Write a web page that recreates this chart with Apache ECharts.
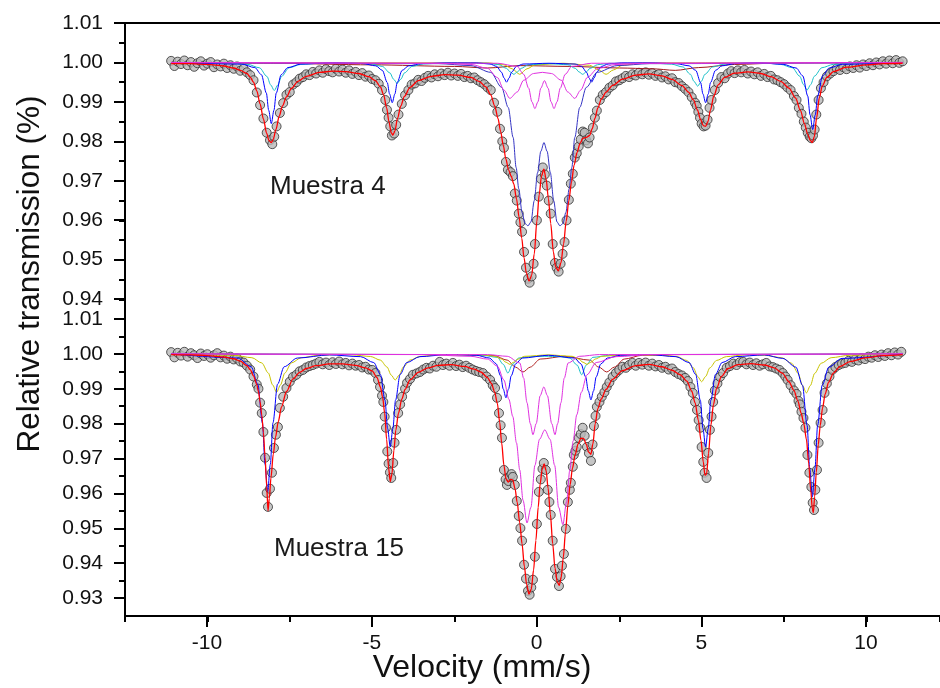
<!DOCTYPE html>
<html>
<head>
<meta charset="utf-8">
<script src="https://cdn.jsdelivr.net/npm/echarts@6/dist/echarts.min.js"></script>
<style>
html,body{margin:0;padding:0;background:#fff}
#chart{width:940px;height:688px}
</style>
</head>
<body>
<div id="chart"></div>
<script>
// Mössbauer spectra, velocity (mm/s) vs relative transmission

// ---------- Muestra 4 ----------
const m4Data = [[-11.1,1.0004],[-11.0,0.9991],[-10.9,1.0002],[-10.8,0.9996],[-10.7,1.0005],[-10.6,0.9993],[-10.5,1.0001],[-10.4,0.9989],[-10.3,0.9998],[-10.2,1.0003],[-10.1,0.9992],[-10.0,0.9997],[-9.9,1.0001],[-9.8,0.9988],[-9.7,0.9995],[-9.6,0.9990],[-9.5,0.9997],[-9.4,0.9986],[-9.3,0.9993],[-9.2,0.9984],[-9.1,0.9990],[-9.0,0.9979],[-8.9,0.9984],[-8.8,0.9975],[-8.7,0.9968],[-8.6,0.9955],[-8.5,0.9924],[-8.4,0.9892],[-8.3,0.9858],[-8.2,0.9822],[-8.1,0.9803],[-8.03,0.9793],[-7.97,0.9812],[-7.9,0.9838],[-7.8,0.9872],[-7.7,0.9897],[-7.6,0.9918],[-7.5,0.9925],[-7.4,0.9944],[-7.3,0.9950],[-7.2,0.9959],[-7.1,0.9963],[-7.0,0.9970],[-6.9,0.9968],[-6.8,0.9976],[-6.7,0.9972],[-6.6,0.9980],[-6.5,0.9974],[-6.4,0.9983],[-6.3,0.9978],[-6.2,0.9975],[-6.1,0.9984],[-6.0,0.9977],[-5.9,0.9982],[-5.8,0.9974],[-5.7,0.9980],[-5.6,0.9971],[-5.5,0.9976],[-5.4,0.9968],[-5.3,0.9973],[-5.2,0.9964],[-5.1,0.9967],[-5.0,0.9958],[-4.9,0.9955],[-4.8,0.9946],[-4.7,0.9930],[-4.6,0.9905],[-4.55,0.9880],[-4.5,0.9860],[-4.45,0.9838],[-4.4,0.9815],[-4.33,0.9820],[-4.27,0.9842],[-4.2,0.9868],[-4.1,0.9895],[-4.0,0.9917],[-3.9,0.9930],[-3.8,0.9944],[-3.7,0.9947],[-3.6,0.9956],[-3.5,0.9953],[-3.4,0.9961],[-3.3,0.9966],[-3.2,0.9962],[-3.1,0.9970],[-3.0,0.9965],[-2.9,0.9972],[-2.8,0.9968],[-2.7,0.9974],[-2.6,0.9967],[-2.5,0.9972],[-2.4,0.9966],[-2.3,0.9971],[-2.2,0.9963],[-2.1,0.9966],[-2.0,0.9960],[-1.9,0.9962],[-1.8,0.9955],[-1.7,0.9950],[-1.6,0.9945],[-1.5,0.9937],[-1.4,0.9930],[-1.3,0.9898],[-1.2,0.9875],[-1.12,0.9832],[-1.05,0.9800],[-1.0,0.9784],[-0.94,0.9748],[-0.88,0.9728],[-0.8,0.9722],[-0.73,0.9712],[-0.67,0.9668],[-0.61,0.9650],[-0.55,0.9617],[-0.5,0.9595],[-0.45,0.9571],[-0.39,0.9520],[-0.33,0.9480],[-0.27,0.9452],[-0.22,0.9442],[-0.16,0.9458],[-0.1,0.9490],[-0.06,0.9540],[0.0,0.9600],[0.06,0.9660],[0.12,0.9705],[0.18,0.9734],[0.24,0.9716],[0.3,0.9688],[0.36,0.9650],[0.42,0.9617],[0.48,0.9540],[0.55,0.9492],[0.6,0.9480],[0.66,0.9470],[0.72,0.9490],[0.78,0.9515],[0.84,0.9545],[0.9,0.9600],[0.97,0.9652],[1.03,0.9693],[1.09,0.9718],[1.15,0.9759],[1.21,0.9770],[1.27,0.9787],[1.33,0.9805],[1.39,0.9825],[1.45,0.9822],[1.5,0.9803],[1.55,0.9795],[1.6,0.9810],[1.7,0.9835],[1.76,0.9860],[1.82,0.9878],[1.91,0.9905],[2.0,0.9918],[2.1,0.9925],[2.2,0.9936],[2.3,0.9942],[2.4,0.9952],[2.5,0.9955],[2.6,0.9960],[2.7,0.9966],[2.8,0.9963],[2.9,0.9970],[3.0,0.9967],[3.1,0.9974],[3.2,0.9970],[3.3,0.9975],[3.4,0.9969],[3.5,0.9973],[3.6,0.9966],[3.7,0.9970],[3.8,0.9962],[3.9,0.9965],[4.0,0.9957],[4.1,0.9960],[4.2,0.9950],[4.3,0.9948],[4.4,0.9940],[4.5,0.9933],[4.6,0.9925],[4.7,0.9912],[4.8,0.9898],[4.85,0.9890],[4.9,0.9875],[4.95,0.9860],[5.0,0.9845],[5.06,0.9838],[5.12,0.9840],[5.18,0.9855],[5.24,0.9885],[5.3,0.9905],[5.4,0.9930],[5.5,0.9948],[5.6,0.9963],[5.7,0.9960],[5.8,0.9972],[5.9,0.9978],[6.0,0.9973],[6.1,0.9980],[6.2,0.9975],[6.3,0.9981],[6.4,0.9972],[6.5,0.9977],[6.6,0.9970],[6.7,0.9975],[6.8,0.9966],[6.9,0.9971],[7.0,0.9963],[7.1,0.9966],[7.2,0.9957],[7.3,0.9955],[7.4,0.9950],[7.5,0.9945],[7.6,0.9937],[7.7,0.9930],[7.8,0.9915],[7.88,0.9905],[7.95,0.9885],[8.03,0.9870],[8.1,0.9850],[8.16,0.9835],[8.22,0.9822],[8.28,0.9812],[8.33,0.9808],[8.38,0.9815],[8.43,0.9830],[8.48,0.9868],[8.55,0.9905],[8.62,0.9935],[8.7,0.9950],[8.8,0.9965],[8.9,0.9972],[9.0,0.9978],[9.1,0.9985],[9.2,0.9981],[9.3,0.9988],[9.4,0.9983],[9.5,0.9990],[9.6,0.9986],[9.7,0.9993],[9.8,0.9987],[9.9,0.9995],[10.0,0.9991],[10.1,0.9998],[10.2,0.9993],[10.3,1.0000],[10.4,0.9995],[10.5,1.0003],[10.6,0.9997],[10.7,1.0005],[10.8,0.9998],[10.9,1.0006],[11.0,0.9999],[11.1,1.0003]];

const m4Fit = [[-11.1,0.9997],[-10.5,0.9997],[-10,0.9995],[-9.5,0.9991],[-9.2,0.9986],[-9.0,0.9980],[-8.8,0.9972],[-8.7,0.9963],[-8.6,0.9950],[-8.5,0.9928],[-8.4,0.9895],[-8.3,0.9857],[-8.2,0.9820],[-8.13,0.9802],[-8.06,0.9797],[-8.0,0.9805],[-7.92,0.9830],[-7.82,0.9864],[-7.72,0.9890],[-7.6,0.9913],[-7.45,0.9934],[-7.25,0.9952],[-7.0,0.9965],[-6.6,0.9975],[-6.2,0.9978],[-5.8,0.9977],[-5.4,0.9972],[-5.1,0.9964],[-4.9,0.9954],[-4.75,0.9938],[-4.65,0.9918],[-4.56,0.9885],[-4.49,0.9850],[-4.42,0.9822],[-4.37,0.9816],[-4.31,0.9826],[-4.23,0.9858],[-4.13,0.9890],[-4.02,0.9914],[-3.85,0.9937],[-3.6,0.9954],[-3.2,0.9965],[-2.8,0.9969],[-2.4,0.9968],[-2.0,0.9962],[-1.75,0.9952],[-1.55,0.9938],[-1.4,0.9918],[-1.28,0.9890],[-1.18,0.9858],[-1.1,0.9825],[-1.02,0.9790],[-0.94,0.9755],[-0.86,0.9728],[-0.78,0.9712],[-0.7,0.9692],[-0.62,0.9655],[-0.54,0.9608],[-0.46,0.9555],[-0.39,0.9505],[-0.32,0.9467],[-0.24,0.9446],[-0.16,0.9460],[-0.08,0.9515],[0.0,0.9598],[0.07,0.9665],[0.14,0.9712],[0.21,0.9730],[0.28,0.9705],[0.35,0.9655],[0.42,0.9592],[0.5,0.9520],[0.57,0.9482],[0.65,0.9472],[0.73,0.9492],[0.81,0.9540],[0.89,0.9598],[0.97,0.9650],[1.05,0.9697],[1.13,0.9740],[1.22,0.9772],[1.31,0.9795],[1.4,0.9808],[1.5,0.9810],[1.6,0.9815],[1.68,0.9832],[1.76,0.9858],[1.85,0.9885],[1.96,0.9908],[2.1,0.9925],[2.3,0.9942],[2.6,0.9958],[3.0,0.9968],[3.4,0.9971],[3.8,0.9966],[4.1,0.9957],[4.4,0.9942],[4.6,0.9925],[4.75,0.9905],[4.87,0.9880],[4.97,0.9855],[5.05,0.9840],[5.12,0.9838],[5.19,0.9850],[5.27,0.9880],[5.37,0.9915],[5.5,0.9943],[5.7,0.9962],[6.0,0.9973],[6.4,0.9976],[6.8,0.9972],[7.1,0.9964],[7.4,0.9952],[7.65,0.9935],[7.85,0.9910],[8.0,0.9878],[8.12,0.9845],[8.22,0.9818],[8.3,0.9802],[8.36,0.9797],[8.42,0.9812],[8.49,0.9860],[8.57,0.9910],[8.66,0.9940],[8.8,0.9962],[9.0,0.9977],[9.4,0.9988],[10.0,0.9994],[10.5,0.9997],[11.1,0.9998]];

const m4Sextet = [[-11.1,1],[-8.96,0.9996],[-8.56,0.9987],[-8.36,0.9969],[-8.21,0.99225],[-8.14,0.9879],[-8.06,0.9845],[-7.98,0.9879],[-7.91,0.99225],[-7.76,0.9969],[-7.56,0.9987],[-7.16,0.9996],[-6.2,0.9999],[-5.29,0.99972],[-4.89,0.99915],[-4.69,0.998],[-4.54,0.9949],[-4.47,0.992],[-4.39,0.9898],[-4.31,0.992],[-4.24,0.9949],[-4.09,0.998],[-3.89,0.99915],[-3.49,0.99972],[-2.6,0.9999],[-1.82,0.9999],[-1.42,0.9996],[-1.22,0.999],[-1.07,0.9975],[-1.0,0.9961],[-0.92,0.995],[-0.84,0.9961],[-0.77,0.9975],[-0.62,0.999],[-0.42,0.9996],[0.37,0.9998],[1.16,0.9996],[1.36,0.999],[1.51,0.9975],[1.58,0.9961],[1.66,0.995],[1.74,0.9961],[1.81,0.9975],[1.96,0.999],[2.16,0.9996],[2.56,0.9999],[3.4,0.9999],[4.22,0.99972],[4.62,0.99915],[4.82,0.998],[4.97,0.9949],[5.04,0.992],[5.12,0.9898],[5.2,0.992],[5.27,0.9949],[5.42,0.998],[5.62,0.99915],[6.02,0.99972],[6.75,0.9999],[7.47,0.99954],[7.87,0.99859],[8.07,0.9966],[8.22,0.9915],[8.29,0.98674],[8.37,0.983],[8.45,0.98674],[8.52,0.9915],[8.67,0.9966],[8.87,0.99859],[9.27,0.99954],[11.1,1]];

const m4SextetWide = [[-11.1,1],[-9.37,0.99983],[-8.77,0.9995],[-8.42,0.99865],[-8.19,0.99645],[-8.08,0.99432],[-7.97,0.9929],[-7.86,0.99432],[-7.75,0.99645],[-7.52,0.99865],[-7.17,0.9995],[-6.57,0.99983],[-6.1,0.9999],[-5.64,0.99987],[-5.04,0.99963],[-4.69,0.999],[-4.46,0.99735],[-4.35,0.99576],[-4.24,0.9947],[-4.13,0.99576],[-4.02,0.99735],[-3.79,0.999],[-3.44,0.99963],[-2.84,0.99987],[-1.5,0.9998],[-1.15,0.99943],[-0.92,0.9985],[-0.81,0.9976],[-0.7,0.997],[-0.59,0.9976],[-0.48,0.9985],[-0.25,0.99943],[0.35,0.9997],[0.94,0.99943],[1.17,0.9985],[1.28,0.9976],[1.39,0.997],[1.5,0.9976],[1.61,0.9985],[1.84,0.99943],[2.2,0.9998],[3.48,0.99986],[4.08,0.99958],[4.43,0.99886],[4.66,0.997],[4.77,0.9952],[4.88,0.994],[4.99,0.9952],[5.1,0.997],[5.33,0.99886],[5.68,0.99958],[6.28,0.99986],[6.6,0.9999],[7.0,0.99983],[7.4,0.99951],[7.75,0.99867],[7.98,0.9965],[8.09,0.9944],[8.2,0.993],[8.31,0.9944],[8.42,0.9965],[8.65,0.99867],[9.0,0.99951],[9.6,0.99983],[11.1,1]];

const m4Doublet = [[-11.1,1],[-3,0.9997],[-2,0.9992],[-1.4,0.9975],[-1.07,0.9937],[-0.87,0.9886],[-0.72,0.981],[-0.63,0.9734],[-0.55,0.968],[-0.45,0.962],[-0.36,0.9592],[-0.27,0.9586],[-0.18,0.9596],[-0.08,0.9650],[0.02,0.9720],[0.12,0.9775],[0.215,0.9797],[0.31,0.9775],[0.41,0.972],[0.51,0.965],[0.61,0.9596],[0.70,0.9586],[0.79,0.9592],[0.88,0.962],[0.98,0.968],[1.06,0.9734],[1.15,0.981],[1.3,0.9886],[1.5,0.9937],[1.83,0.9975],[2.43,0.9992],[3.43,0.9997],[11.1,1]];

const m4DoubletNarrow = [[-11.1,1],[-1.2,0.9998],[-0.6,0.999],[-0.4,0.997],[-0.25,0.9935],[-0.15,0.99],[-0.06,0.9883],[0.03,0.99],[0.12,0.9935],[0.23,0.9954],[0.34,0.9935],[0.43,0.99],[0.52,0.9883],[0.61,0.99],[0.71,0.9935],[0.86,0.997],[1.06,0.999],[1.66,0.9998],[11.1,1]];

const m4DoubletBroad = [[-11.1,1],[-3,0.9998],[-2,0.9995],[-1.5,0.9985],[-1.2,0.9962],[-1.0,0.993],[-0.82,0.9909],[-0.6,0.9925],[-0.4,0.9955],[-0.1,0.9972],[0.17,0.9975],[0.44,0.9972],[0.74,0.9955],[0.94,0.9925],[1.15,0.9909],[1.33,0.993],[1.53,0.9962],[1.85,0.9985],[2.4,0.9995],[3.4,0.9998],[11.1,1]];

const m4Minor = [[-11.1,1],[-1.5,0.9999],[-1.0,0.9994],[-0.75,0.9984],[-0.52,0.997],[-0.3,0.9984],[-0.05,0.9994],[0.8,0.9998],[1.6,0.9993],[1.88,0.9981],[2.1,0.997],[2.32,0.9981],[2.6,0.9993],[3.2,0.9999],[11.1,1]];

const m4Distribution = [[-11.1,1],[-8,0.9998],[-5,0.9994],[-2.5,0.999],[-1.5,0.9986],[-0.5,0.9992],[1,0.999],[2.5,0.9986],[3.5,0.9984],[4.2,0.998],[4.9,0.9987],[6,0.9995],[7.5,0.9999],[11.1,1]];

// ---------- Muestra 15 ----------
const m15Data = [[-11.1,1.0005],[-11.0,0.9990],[-10.9,1.0003],[-10.8,0.9995],[-10.7,1.0006],[-10.6,0.9992],[-10.5,1.0002],[-10.4,0.9996],[-10.3,0.9988],[-10.2,1.0001],[-10.1,0.9994],[-10.0,0.9999],[-9.9,0.9989],[-9.8,0.9996],[-9.7,1.0002],[-9.6,0.9990],[-9.5,0.9995],[-9.4,0.9986],[-9.3,0.9992],[-9.2,0.9984],[-9.1,0.9987],[-9.0,0.9978],[-8.9,0.9975],[-8.8,0.9966],[-8.7,0.9955],[-8.6,0.9935],[-8.5,0.9912],[-8.45,0.9900],[-8.4,0.9860],[-8.35,0.9830],[-8.3,0.9776],[-8.25,0.9702],[-8.2,0.9601],[-8.16,0.9561],[-8.1,0.9613],[-8.04,0.9659],[-7.98,0.9730],[-7.92,0.9768],[-7.86,0.9790],[-7.8,0.9845],[-7.7,0.9877],[-7.6,0.9902],[-7.5,0.9920],[-7.4,0.9934],[-7.3,0.9940],[-7.2,0.9950],[-7.1,0.9954],[-7.0,0.9961],[-6.9,0.9965],[-6.8,0.9968],[-6.7,0.9972],[-6.6,0.9977],[-6.5,0.9970],[-6.4,0.9975],[-6.3,0.9968],[-6.2,0.9976],[-6.1,0.9971],[-6.0,0.9978],[-5.9,0.9970],[-5.8,0.9974],[-5.7,0.9967],[-5.6,0.9972],[-5.5,0.9966],[-5.4,0.9968],[-5.3,0.9961],[-5.2,0.9963],[-5.1,0.9955],[-5.0,0.9954],[-4.9,0.9945],[-4.82,0.9925],[-4.76,0.9905],[-4.7,0.9880],[-4.66,0.9862],[-4.62,0.9820],[-4.58,0.9788],[-4.54,0.9720],[-4.5,0.9685],[-4.46,0.9660],[-4.42,0.9644],[-4.36,0.9687],[-4.32,0.9745],[-4.27,0.9782],[-4.21,0.9830],[-4.15,0.9855],[-4.09,0.9877],[-4.0,0.9900],[-3.94,0.9917],[-3.85,0.9928],[-3.76,0.9940],[-3.65,0.9944],[-3.55,0.9948],[-3.45,0.9955],[-3.35,0.9960],[-3.25,0.9958],[-3.15,0.9966],[-3.05,0.9963],[-2.95,0.9977],[-2.85,0.9968],[-2.75,0.9972],[-2.65,0.9966],[-2.55,0.9974],[-2.45,0.9965],[-2.35,0.9969],[-2.25,0.9962],[-2.15,0.9966],[-2.05,0.9960],[-1.95,0.9955],[-1.85,0.9951],[-1.75,0.9948],[-1.64,0.9945],[-1.53,0.9935],[-1.42,0.9925],[-1.34,0.9910],[-1.27,0.9902],[-1.21,0.9874],[-1.15,0.9830],[-1.1,0.9795],[-1.06,0.9759],[-1.0,0.9667],[-0.95,0.9640],[-0.91,0.9624],[-0.86,0.9635],[-0.82,0.9647],[-0.77,0.9655],[-0.73,0.9647],[-0.67,0.9624],[-0.61,0.9578],[-0.55,0.9535],[-0.5,0.9500],[-0.45,0.9464],[-0.39,0.9395],[-0.33,0.9355],[-0.27,0.9320],[-0.22,0.9309],[-0.17,0.9330],[-0.12,0.9352],[-0.06,0.9418],[0.0,0.9512],[0.06,0.9604],[0.12,0.9640],[0.17,0.9670],[0.21,0.9687],[0.27,0.9667],[0.33,0.9610],[0.38,0.9575],[0.42,0.9538],[0.48,0.9464],[0.55,0.9383],[0.61,0.9360],[0.67,0.9334],[0.72,0.9362],[0.76,0.9392],[0.82,0.9426],[0.88,0.9498],[0.94,0.9575],[1.0,0.9610],[1.03,0.9630],[1.09,0.9676],[1.12,0.9710],[1.17,0.9722],[1.21,0.9733],[1.27,0.9759],[1.33,0.9770],[1.39,0.9788],[1.45,0.9765],[1.52,0.9733],[1.58,0.9715],[1.64,0.9693],[1.69,0.9740],[1.73,0.9793],[1.78,0.9822],[1.82,0.9848],[1.9,0.9862],[1.97,0.9877],[2.05,0.9890],[2.12,0.9905],[2.2,0.9918],[2.3,0.9934],[2.4,0.9945],[2.5,0.9954],[2.6,0.9963],[2.7,0.9960],[2.8,0.9968],[2.9,0.9974],[3.0,0.9966],[3.1,0.9974],[3.2,0.9969],[3.3,0.9975],[3.4,0.9966],[3.5,0.9972],[3.6,0.9964],[3.7,0.9968],[3.8,0.9960],[3.9,0.9963],[4.0,0.9955],[4.1,0.9958],[4.2,0.9948],[4.3,0.9942],[4.4,0.9938],[4.5,0.9931],[4.58,0.9922],[4.66,0.9905],[4.73,0.9888],[4.8,0.9862],[4.86,0.9839],[4.91,0.9810],[4.96,0.9788],[5.0,0.9733],[5.05,0.9690],[5.09,0.9659],[5.15,0.9644],[5.2,0.9716],[5.25,0.9782],[5.3,0.9820],[5.35,0.9862],[5.4,0.9895],[5.48,0.9915],[5.56,0.9934],[5.65,0.9945],[5.76,0.9960],[5.86,0.9965],[5.96,0.9972],[6.06,0.9968],[6.16,0.9976],[6.26,0.9977],[6.36,0.9970],[6.46,0.9975],[6.56,0.9968],[6.66,0.9973],[6.76,0.9966],[6.86,0.9970],[6.96,0.9974],[7.06,0.9964],[7.16,0.9962],[7.26,0.9958],[7.36,0.9954],[7.46,0.9945],[7.54,0.9935],[7.61,0.9925],[7.7,0.9910],[7.8,0.9895],[7.88,0.9885],[7.94,0.9865],[7.98,0.9855],[8.03,0.9834],[8.09,0.9816],[8.15,0.9788],[8.21,0.9710],[8.27,0.9659],[8.33,0.9618],[8.37,0.9573],[8.41,0.9552],[8.45,0.9610],[8.5,0.9667],[8.55,0.9745],[8.61,0.9802],[8.67,0.9839],[8.73,0.9888],[8.8,0.9915],[8.88,0.9935],[8.97,0.9954],[9.06,0.9962],[9.16,0.9968],[9.26,0.9972],[9.36,0.9974],[9.46,0.9980],[9.56,0.9977],[9.66,0.9984],[9.76,0.9981],[9.86,0.9988],[9.96,0.9985],[10.06,0.9992],[10.16,0.9989],[10.26,0.9996],[10.36,0.9991],[10.46,0.9998],[10.56,0.9994],[10.66,1.0002],[10.76,0.9996],[10.86,1.0004],[10.96,0.9998],[11.06,1.0006]];

const m15Fit = [[-11.1,0.9998],[-10.5,0.9997],[-10,0.9995],[-9.5,0.9991],[-9.2,0.9986],[-9.0,0.9979],[-8.8,0.9966],[-8.7,0.9955],[-8.6,0.9937],[-8.5,0.9912],[-8.45,0.9892],[-8.4,0.9862],[-8.35,0.9825],[-8.3,0.9775],[-8.25,0.9705],[-8.2,0.962],[-8.16,0.9550],[-8.12,0.9585],[-8.07,0.9645],[-8.0,0.9712],[-7.93,0.9762],[-7.85,0.9805],[-7.75,0.9848],[-7.6,0.9892],[-7.4,0.9928],[-7.2,0.9947],[-7.0,0.9958],[-6.7,0.9966],[-6.3,0.9971],[-5.9,0.9971],[-5.5,0.9967],[-5.2,0.9960],[-5.0,0.9951],[-4.85,0.9932],[-4.75,0.9905],[-4.68,0.9875],[-4.62,0.9830],[-4.56,0.9755],[-4.5,0.9672],[-4.45,0.9634],[-4.4,0.9655],[-4.34,0.9722],[-4.28,0.9782],[-4.2,0.9830],[-4.1,0.9870],[-4.0,0.9898],[-3.85,0.9925],[-3.6,0.9947],[-3.3,0.9960],[-3.0,0.9967],[-2.6,0.9969],[-2.2,0.9964],[-1.9,0.9956],[-1.7,0.9948],[-1.5,0.9932],[-1.38,0.9915],[-1.28,0.9890],[-1.2,0.9858],[-1.13,0.9805],[-1.07,0.9745],[-1.0,0.9680],[-0.94,0.9642],[-0.87,0.9632],[-0.8,0.9640],[-0.73,0.9638],[-0.66,0.9612],[-0.6,0.9575],[-0.52,0.9515],[-0.45,0.9455],[-0.38,0.9390],[-0.31,0.9338],[-0.24,0.9311],[-0.17,0.9325],[-0.1,0.9380],[-0.03,0.9465],[0.04,0.9560],[0.1,0.9628],[0.16,0.9668],[0.22,0.9684],[0.28,0.9665],[0.34,0.9615],[0.41,0.9540],[0.48,0.9455],[0.55,0.9385],[0.62,0.9345],[0.68,0.9336],[0.74,0.9360],[0.8,0.9415],[0.87,0.9490],[0.94,0.9565],[1.01,0.9625],[1.08,0.9672],[1.16,0.9710],[1.25,0.9742],[1.34,0.9758],[1.42,0.9757],[1.5,0.9740],[1.57,0.9718],[1.64,0.9712],[1.7,0.9742],[1.77,0.9800],[1.85,0.9843],[1.95,0.9870],[2.1,0.9898],[2.3,0.9927],[2.6,0.9952],[3.0,0.9966],[3.4,0.9970],[3.8,0.9963],[4.1,0.9953],[4.35,0.9940],[4.55,0.9922],[4.7,0.9893],[4.8,0.9860],[4.9,0.9810],[4.98,0.9752],[5.05,0.9690],[5.1,0.9652],[5.15,0.9655],[5.21,0.9715],[5.28,0.9795],[5.36,0.9855],[5.45,0.9900],[5.6,0.9935],[5.8,0.9958],[6.1,0.9969],[6.5,0.9972],[6.9,0.9968],[7.2,0.9960],[7.45,0.9945],[7.65,0.9920],[7.8,0.9895],[7.92,0.9865],[8.02,0.9830],[8.1,0.9800],[8.18,0.9755],[8.25,0.9685],[8.31,0.9610],[8.36,0.9555],[8.39,0.9544],[8.43,0.9590],[8.48,0.9660],[8.54,0.9740],[8.6,0.9795],[8.67,0.9845],[8.75,0.9885],[8.85,0.9918],[9.0,0.9945],[9.2,0.9964],[9.5,0.9978],[10.0,0.9989],[10.5,0.9995],[11.1,0.9998]];

const m15Sextet = [[-11.1,1],[-9.07,0.9988],[-8.67,0.9963],[-8.47,0.9913],[-8.33,0.9802],[-8.25,0.9683],[-8.17,0.9604],[-8.09,0.9683],[-8.01,0.9802],[-7.87,0.9913],[-7.67,0.9963],[-7.27,0.9988],[-6.3,0.9997],[-5.35,0.9992],[-4.95,0.9975],[-4.75,0.9941],[-4.61,0.9867],[-4.53,0.9786],[-4.45,0.9733],[-4.37,0.9786],[-4.29,0.9867],[-4.15,0.9941],[-3.95,0.9975],[-3.55,0.9992],[-2.7,0.9998],[-1.84,0.9996],[-1.44,0.9988],[-1.24,0.9972],[-1.1,0.9937],[-1.02,0.9899],[-0.94,0.9874],[-0.86,0.9899],[-0.78,0.9937],[-0.64,0.9972],[-0.44,0.9988],[0.35,0.9996],[1.14,0.9988],[1.34,0.9971],[1.48,0.9934],[1.56,0.9894],[1.64,0.9868],[1.72,0.9894],[1.8,0.9934],[1.94,0.9971],[2.14,0.9988],[2.54,0.9996],[3.4,0.9998],[4.22,0.9992],[4.62,0.9975],[4.82,0.9941],[4.96,0.9867],[5.04,0.9786],[5.12,0.9733],[5.2,0.9786],[5.28,0.9867],[5.42,0.9941],[5.62,0.9975],[6.02,0.9992],[6.9,0.9997],[7.46,0.9987],[7.86,0.9962],[8.06,0.991],[8.2,0.9795],[8.28,0.9672],[8.36,0.959],[8.44,0.9672],[8.52,0.9795],[8.66,0.991],[8.86,0.9962],[9.26,0.9987],[11.1,1]];

const m15SextetWide = [[-11.1,1],[-9.2,0.9996],[-8.65,0.9989],[-8.35,0.9974],[-8.15,0.9945],[-8.02,0.9911],[-7.9,0.989],[-7.78,0.9911],[-7.65,0.9945],[-7.45,0.9974],[-7.15,0.9989],[-6.6,0.9996],[-6.0,0.9998],[-5.6,0.9997],[-5.05,0.99925],[-4.75,0.9982],[-4.55,0.99625],[-4.42,0.9939],[-4.3,0.9925],[-4.18,0.9939],[-4.05,0.99625],[-3.85,0.9982],[-3.55,0.99925],[-3.0,0.9997],[-1.6,0.9997],[-1.27,0.9993],[-1.07,0.9985],[-0.94,0.9976],[-0.82,0.997],[-0.7,0.9976],[-0.57,0.9985],[-0.37,0.9993],[0.35,0.9997],[1.07,0.9993],[1.27,0.9985],[1.4,0.9976],[1.52,0.997],[1.64,0.9976],[1.77,0.9985],[1.97,0.9993],[2.6,0.9997],[3.7,0.9997],[4.25,0.9992],[4.55,0.9981],[4.75,0.996],[4.88,0.9935],[5.0,0.992],[5.12,0.9935],[5.25,0.996],[5.45,0.9981],[5.75,0.9992],[6.3,0.9997],[6.9,0.9996],[7.43,0.9989],[7.73,0.9973],[7.93,0.9944],[8.06,0.9909],[8.18,0.9888],[8.3,0.9909],[8.43,0.9944],[8.63,0.9973],[8.93,0.9989],[9.5,0.9996],[11.1,1]];

const m15DoubletBroad = [[-11.1,1],[-3.5,0.9998],[-2.0,0.9993],[-1.5,0.9985],[-1.2,0.9965],[-1.0,0.9925],[-0.85,0.987],[-0.73,0.982],[-0.62,0.9745],[-0.52,0.9667],[-0.42,0.958],[-0.3,0.9515],[-0.18,0.956],[-0.06,0.968],[0.08,0.9755],[0.24,0.9782],[0.4,0.9755],[0.54,0.968],[0.66,0.956],[0.79,0.951],[0.9,0.9575],[1.0,0.9667],[1.1,0.975],[1.21,0.9825],[1.35,0.989],[1.52,0.994],[1.8,0.9975],[2.4,0.9992],[3.5,0.9998],[11.1,1]];

const m15DoubletNarrow = [[-11.1,1],[-1.5,0.9998],[-0.9,0.9993],[-0.52,0.9974],[-0.4,0.993],[-0.3,0.986],[-0.2,0.98],[-0.12,0.9768],[-0.02,0.98],[0.1,0.988],[0.21,0.9905],[0.32,0.988],[0.45,0.98],[0.55,0.9768],[0.63,0.98],[0.73,0.986],[0.83,0.993],[0.95,0.9974],[1.3,0.9993],[1.9,0.9998],[11.1,1]];

const m15Minor = [[-11.1,1],[-2.2,0.9998],[-1.6,0.9995],[-1.2,0.999],[-1.02,0.997],[-0.88,0.9945],[-0.74,0.997],[-0.55,0.9988],[-0.2,0.9992],[0.24,0.9993],[0.7,0.9992],[1.0,0.9988],[1.22,0.9968],[1.36,0.994],[1.5,0.9968],[1.7,0.999],[2.2,0.9996],[3,0.9998],[11.1,1]];

const m15Distribution = [[-11.1,1],[-2.5,0.9998],[-1.3,0.9995],[-0.9,0.9982],[-0.65,0.9962],[-0.42,0.9948],[-0.2,0.9962],[0.1,0.9985],[0.85,0.9993],[1.6,0.9982],[1.88,0.9962],[2.12,0.9948],[2.35,0.9962],[2.65,0.9985],[3.2,0.9996],[4.5,0.9998],[11.1,1]];

// ---------- axes ----------
// the plotted velocity window runs off the right edge of the figure
const xRange = [-12.5, 12.234];
const xLabelRange = [-10, 10];
const topRange = [0.935, 1.01];
const topLabelRange = [0.94, 1.01];
const bottomRange = [0.9248, 1.01];
const bottomLabelRange = [0.93, 1.01];

const FONT = '"Liberation Sans", Arial, Helvetica, sans-serif';
const black = '#000';

function component(data, color, xi, yi, z) {
  return {
    type: 'line', xAxisIndex: xi, yAxisIndex: yi, data: data,
    symbol: 'none', smooth: 0.3, smoothMonotone: 'x',
    lineStyle: { color: color, width: 1 }, z: z || 3, silent: true
  };
}
function points(data, xi, yi) {
  return {
    type: 'scatter', xAxisIndex: xi, yAxisIndex: yi, data: data,
    symbol: 'circle', symbolSize: 9,
    itemStyle: { color: '#b8b8b8', borderColor: '#303030', borderWidth: 1 },
    z: 2, silent: true
  };
}
function fit(data, xi, yi) {
  return {
    type: 'line', xAxisIndex: xi, yAxisIndex: yi, data: data,
    symbol: 'none', smooth: 0.3, smoothMonotone: 'x',
    lineStyle: { color: '#ff0000', width: 1.3 }, z: 5, silent: true
  };
}

const hidden = (gi) => ({ gridIndex: gi, type: 'value', show: false, min: 0, max: 1 });

const option = {
  animation: false,
  backgroundColor: '#fff',
  grid: [
    { left: 125, right: 0, top: 23, height: 296 },
    { left: 125, right: 0, top: 319, height: 297 },
    { left: 125, width: 10, top: 23, height: 276 },
    { left: 125, width: 10, top: 319, height: 279 },
    { left: 207, width: 659, top: 319, height: 297 }
  ],
  xAxis: [
    { gridIndex: 0, type: 'value', min: xRange[0], max: xRange[1], position: 'top',
      axisLine: { show: true, onZero: false, lineStyle: { color: black, width: 2 } },
      axisTick: { show: false }, axisLabel: { show: false }, splitLine: { show: false } },
    { gridIndex: 1, type: 'value', min: xRange[0], max: xRange[1], interval: 2.5, position: 'bottom',
      axisLine: { show: true, onZero: false, lineStyle: { color: black, width: 2 } },
      axisTick: { show: true, length: 6, lineStyle: { color: black, width: 2 } },
      axisLabel: { show: false }, splitLine: { show: false } },
    hidden(2),
    hidden(3),
    { gridIndex: 4, type: 'value', min: xLabelRange[0], max: xLabelRange[1], interval: 5, position: 'bottom',
      axisLine: { show: false, onZero: false },
      axisTick: { show: true, length: 11, lineStyle: { color: black, width: 2 } },
      axisLabel: { show: true, fontSize: 21, fontFamily: FONT, color: '#111', margin: 17 },
      splitLine: { show: false } }
  ],
  yAxis: [
    { gridIndex: 0, type: 'value', position: 'left', min: topRange[0], max: topRange[1], interval: 0.005,
      axisLine: { show: true, onZero: false, lineStyle: { color: black, width: 2 } },
      axisTick: { show: true, length: 6, lineStyle: { color: black, width: 2 } },
      axisLabel: { show: false }, splitLine: { show: false } },
    { gridIndex: 1, type: 'value', position: 'left', min: bottomRange[0], max: bottomRange[1],
      axisLine: { show: true, onZero: false, lineStyle: { color: black, width: 2 } },
      axisTick: { show: false }, axisLabel: { show: false }, splitLine: { show: false } },
    { gridIndex: 2, type: 'value', position: 'left', min: topLabelRange[0], max: topLabelRange[1], interval: 0.01,
      axisLine: { show: false, onZero: false },
      axisTick: { show: true, length: 11, lineStyle: { color: black, width: 2 } },
      axisLabel: { show: true, fontSize: 21, fontFamily: FONT, color: '#111', margin: 22,
        formatter: (v) => v.toFixed(2) },
      splitLine: { show: false } },
    { gridIndex: 3, type: 'value', position: 'left', offset: 0, min: bottomLabelRange[0], max: bottomLabelRange[1], interval: 0.005,
      axisLine: { show: false, onZero: false },
      axisTick: { show: true, length: 6, lineStyle: { color: black, width: 2 } },
      axisLabel: { show: false }, splitLine: { show: false } },
    { gridIndex: 3, type: 'value', position: 'left', offset: 0, min: bottomLabelRange[0], max: bottomLabelRange[1], interval: 0.01,
      axisLine: { show: false, onZero: false },
      axisTick: { show: true, length: 11, lineStyle: { color: black, width: 2 } },
      axisLabel: { show: true, fontSize: 21, fontFamily: FONT, color: '#111', margin: 22,
        formatter: (v) => v.toFixed(2) },
      splitLine: { show: false } },
    hidden(4)
  ],
  graphic: [
    { type: 'text', left: 270, top: 174,
      style: { text: 'Muestra 4', font: '26px ' + FONT, fill: '#1a1a1a' } },
    { type: 'text', left: 274, top: 536,
      style: { text: 'Muestra 15', font: '26px ' + FONT, fill: '#1a1a1a' } },
    { type: 'text', x: 30, y: 274, rotation: Math.PI / 2,
      style: { text: 'Relative transmission (%)', font: '31.5px ' + FONT, fill: '#111',
        align: 'center', verticalAlign: 'middle', textAlign: 'center', textVerticalAlign: 'middle' } },
    { type: 'text', x: 482, y: 668,
      style: { text: 'Velocity (mm/s)', font: '32px ' + FONT, fill: '#111',
        align: 'center', verticalAlign: 'middle', textAlign: 'center', textVerticalAlign: 'middle' } }
  ],
  series: [
    points(m4Data, 0, 0),
    component(m4Distribution, '#a01818', 0, 0),
    component(m4Minor, '#c8c400', 0, 0),
    component(m4SextetWide, '#18c0c8', 0, 0),
    component(m4Sextet, '#0000ff', 0, 0),
    component(m4Doublet, '#3434c4', 0, 0),
    component(m4DoubletBroad, '#e030e0', 0, 0),
    component(m4DoubletNarrow, '#e030e0', 0, 0),
    fit(m4Fit, 0, 0),

    points(m15Data, 1, 1),
    component(m15Distribution, '#b02020', 1, 1),
    component(m15Minor, '#18c0c8', 1, 1),
    component(m15SextetWide, '#c8c400', 1, 1),
    component(m15Sextet, '#0000ff', 1, 1),
    component(m15DoubletBroad, '#e030e0', 1, 1),
    component(m15DoubletNarrow, '#e030e0', 1, 1),
    fit(m15Fit, 1, 1)
  ]
};

const chart = echarts.init(document.getElementById('chart'), null, { renderer: 'canvas' });
chart.setOption(option);
</script>
</body>
</html>
